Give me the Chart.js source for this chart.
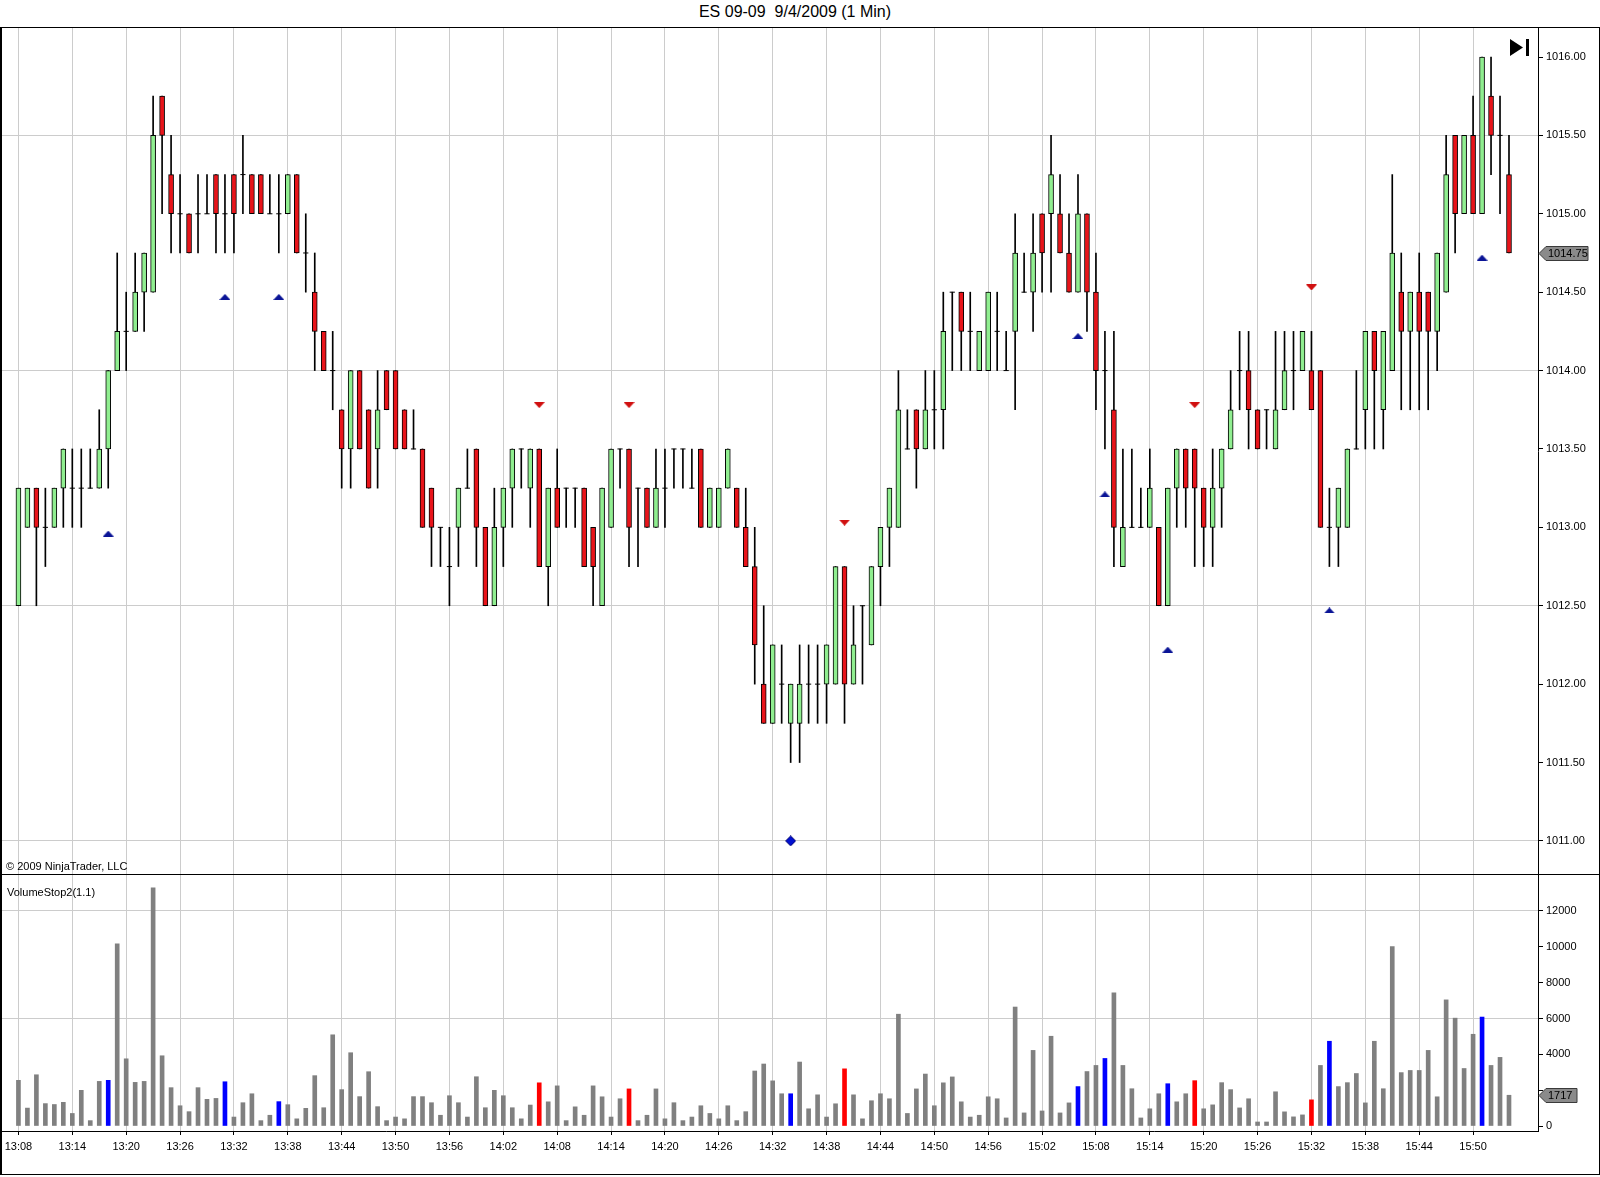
<!DOCTYPE html>
<html>
<head>
<meta charset="utf-8">
<title>ES 09-09 9/4/2009 (1 Min)</title>
<script src="https://cdn.jsdelivr.net/npm/chart.js@4.4.0/dist/chart.umd.min.js"></script>
<style>
  html, body { margin: 0; padding: 0; background: #fff; }
  body { width: 1600px; height: 1177px; position: relative; overflow: hidden;
         font-family: "Liberation Sans", Arial, sans-serif; color: #000; }
  #title { position: absolute; left: 0; top: 3px; width: 1590px; text-align: center;
           font-size: 16px; white-space: pre; }
  #frame { position: absolute; left: 0; top: 27px; width: 1600px; height: 1148px;
           box-sizing: border-box; border: 1px solid #000; border-left-width: 2px; }
  #divider { position: absolute; left: 0; top: 874px; width: 1600px; height: 1px; background: #000; }
  canvas { position: absolute; left: 0; }
  #priceCanvas { top: 28px; }
  #volumeCanvas { top: 875px; }
  .note { position: absolute; font-size: 11px; white-space: pre; }
</style>
</head>
<body>
<div id="title">ES 09-09  9/4/2009 (1 Min)</div>
<div id="frame"></div>
<canvas id="priceCanvas" width="1600" height="846"></canvas>
<div id="divider"></div>
<canvas id="volumeCanvas" width="1600" height="300"></canvas>
<div class="note" style="left:6px; top:860px;">© 2009 NinjaTrader, LLC</div>
<div class="note" style="left:7px; top:886px;">VolumeStop2(1.1)</div>
<script>
// ---- data (one bar per minute, 13:08 .. 15:54) ----
const tickLabels = ['13:08', '13:14', '13:20', '13:26', '13:32', '13:38', '13:44', '13:50', '13:56', '14:02',
  '14:08', '14:14', '14:20', '14:26', '14:32', '14:38', '14:44', '14:50', '14:56', '15:02',
  '15:08', '15:14', '15:20', '15:26', '15:32', '15:38', '15:44', '15:50'];

const opens = [
  1012.5, 1013.0, 1013.25, 1013.0, 1013.0, 1013.25, 1013.25, 1013.25, 1013.25, 1013.25,
  1013.5, 1014.0, 1014.25, 1014.25, 1014.5, 1014.5, 1015.75, 1015.25, 1015.0, 1015.0,
  1015.0, 1015.0, 1015.25, 1015.0, 1015.25, 1015.25, 1015.25, 1015.25, 1015.0, 1015.0,
  1015.0, 1015.25, 1014.75, 1014.5, 1014.25, 1014.0, 1013.75, 1013.5, 1014.0, 1013.75,
  1013.5, 1014.0, 1014.0, 1013.75, 1013.5, 1013.5, 1013.25, 1013.0, 1012.75, 1013.0,
  1013.25, 1013.5, 1013.0, 1012.5, 1013.0, 1013.25, 1013.5, 1013.25, 1013.5, 1012.75,
  1013.25, 1013.25, 1013.25, 1013.25, 1013.0, 1012.5, 1013.0, 1013.5, 1013.5, 1013.25,
  1013.25, 1013.0, 1013.25, 1013.5, 1013.5, 1013.25, 1013.5, 1013.0, 1013.0, 1013.25,
  1013.25, 1013.0, 1012.75, 1012.0, 1011.75, 1012.0, 1011.75, 1011.75, 1012.0, 1012.0,
  1012.0, 1012.0, 1012.75, 1012.0, 1012.5, 1012.25, 1012.75, 1013.0, 1013.0, 1013.5,
  1013.75, 1013.5, 1013.75, 1013.75, 1014.5, 1014.5, 1014.25, 1014.0, 1014.0, 1014.25,
  1014.0, 1014.25, 1014.5, 1014.5, 1015.0, 1015.0, 1015.0, 1014.75, 1014.5, 1015.0,
  1014.5, 1014.0, 1013.75, 1012.75, 1013.0, 1013.0, 1013.0, 1013.0, 1012.5, 1013.25,
  1013.5, 1013.5, 1013.25, 1013.0, 1013.25, 1013.5, 1014.0, 1014.0, 1013.75, 1013.75,
  1013.5, 1013.75, 1014.0, 1014.0, 1014.0, 1014.0, 1013.0, 1013.0, 1013.0, 1013.5,
  1013.75, 1014.25, 1013.75, 1014.0, 1014.5, 1014.25, 1014.5, 1014.5, 1014.25, 1014.5,
  1015.5, 1015.0, 1015.5, 1015.0, 1015.75, 1015.5, 1015.25];

const highs = [
  1013.25, 1013.25, 1013.25, 1013.25, 1013.25, 1013.5, 1013.5, 1013.5, 1013.5, 1013.75,
  1014.0, 1014.75, 1014.5, 1014.75, 1014.75, 1015.75, 1015.75, 1015.5, 1015.25, 1015.0,
  1015.25, 1015.25, 1015.25, 1015.25, 1015.25, 1015.5, 1015.25, 1015.25, 1015.25, 1015.25,
  1015.25, 1015.25, 1015.0, 1014.75, 1014.25, 1014.25, 1013.75, 1014.0, 1014.0, 1013.75,
  1014.0, 1014.0, 1014.0, 1013.75, 1013.75, 1013.5, 1013.25, 1013.0, 1013.0, 1013.25,
  1013.5, 1013.5, 1013.0, 1013.25, 1013.25, 1013.5, 1013.5, 1013.5, 1013.5, 1013.25,
  1013.5, 1013.25, 1013.25, 1013.25, 1013.0, 1013.25, 1013.5, 1013.5, 1013.5, 1013.25,
  1013.25, 1013.5, 1013.5, 1013.5, 1013.5, 1013.5, 1013.5, 1013.25, 1013.25, 1013.5,
  1013.25, 1013.25, 1013.0, 1012.5, 1012.25, 1012.25, 1012.0, 1012.25, 1012.25, 1012.25,
  1012.25, 1012.75, 1012.75, 1012.5, 1012.5, 1012.75, 1013.0, 1013.25, 1014.0, 1013.75,
  1013.75, 1014.0, 1014.0, 1014.5, 1014.5, 1014.5, 1014.5, 1014.25, 1014.5, 1014.5,
  1014.25, 1015.0, 1014.75, 1015.0, 1015.0, 1015.5, 1015.25, 1015.0, 1015.25, 1015.0,
  1014.75, 1014.25, 1014.25, 1013.5, 1013.5, 1013.25, 1013.5, 1013.0, 1013.25, 1013.5,
  1013.5, 1013.5, 1013.25, 1013.5, 1013.5, 1014.0, 1014.25, 1014.25, 1013.75, 1013.75,
  1014.25, 1014.25, 1014.25, 1014.25, 1014.25, 1014.0, 1013.25, 1013.25, 1013.5, 1014.0,
  1014.25, 1014.25, 1014.25, 1015.25, 1014.75, 1014.5, 1014.75, 1014.5, 1014.75, 1015.5,
  1015.5, 1015.5, 1015.75, 1016.0, 1016.0, 1015.75, 1015.5];

const lows = [
  1012.5, 1013.0, 1012.5, 1012.75, 1013.0, 1013.0, 1013.0, 1013.0, 1013.25, 1013.25,
  1013.25, 1014.0, 1014.0, 1014.25, 1014.25, 1014.5, 1015.0, 1014.75, 1014.75, 1014.75,
  1014.75, 1015.0, 1014.75, 1014.75, 1014.75, 1015.0, 1015.0, 1015.0, 1015.0, 1014.75,
  1015.0, 1014.75, 1014.5, 1014.0, 1014.0, 1013.75, 1013.25, 1013.25, 1013.5, 1013.25,
  1013.25, 1013.75, 1013.5, 1013.5, 1013.5, 1013.0, 1012.75, 1012.75, 1012.5, 1012.75,
  1013.25, 1012.75, 1012.5, 1012.5, 1012.75, 1013.0, 1013.25, 1013.0, 1012.75, 1012.5,
  1013.0, 1013.0, 1013.0, 1012.75, 1012.5, 1012.5, 1013.0, 1013.25, 1012.75, 1012.75,
  1013.0, 1013.0, 1013.0, 1013.25, 1013.25, 1013.25, 1013.0, 1013.0, 1013.0, 1013.25,
  1013.0, 1012.75, 1012.0, 1011.75, 1011.75, 1011.75, 1011.5, 1011.5, 1011.75, 1011.75,
  1011.75, 1012.0, 1011.75, 1012.0, 1012.0, 1012.25, 1012.5, 1012.75, 1013.0, 1013.5,
  1013.25, 1013.5, 1013.5, 1013.5, 1014.0, 1014.0, 1014.0, 1014.0, 1014.0, 1014.0,
  1014.0, 1013.75, 1014.5, 1014.25, 1014.5, 1014.5, 1014.75, 1014.5, 1014.5, 1014.25,
  1013.75, 1013.5, 1012.75, 1012.75, 1013.0, 1013.0, 1013.0, 1012.5, 1012.5, 1013.0,
  1013.0, 1012.75, 1012.75, 1012.75, 1013.0, 1013.5, 1013.75, 1013.5, 1013.5, 1013.5,
  1013.5, 1013.75, 1013.75, 1014.0, 1013.75, 1013.0, 1012.75, 1012.75, 1013.0, 1013.5,
  1013.5, 1013.5, 1013.5, 1014.0, 1013.75, 1013.75, 1013.75, 1013.75, 1014.0, 1014.5,
  1014.75, 1015.0, 1015.0, 1015.0, 1015.25, 1015.0, 1014.75];

const closes = [
  1013.25, 1013.25, 1013.0, 1013.0, 1013.25, 1013.5, 1013.25, 1013.25, 1013.25, 1013.5,
  1014.0, 1014.25, 1014.25, 1014.5, 1014.75, 1015.5, 1015.5, 1015.0, 1015.0, 1014.75,
  1015.0, 1015.0, 1015.0, 1015.0, 1015.0, 1015.25, 1015.0, 1015.0, 1015.0, 1015.0,
  1015.25, 1014.75, 1014.75, 1014.25, 1014.0, 1014.0, 1013.5, 1014.0, 1013.5, 1013.25,
  1013.75, 1013.75, 1013.5, 1013.5, 1013.5, 1013.0, 1013.0, 1013.0, 1012.75, 1013.25,
  1013.25, 1013.0, 1012.5, 1013.0, 1013.25, 1013.5, 1013.5, 1013.5, 1012.75, 1013.25,
  1013.0, 1013.25, 1013.25, 1012.75, 1012.75, 1013.25, 1013.5, 1013.5, 1013.0, 1013.25,
  1013.0, 1013.25, 1013.25, 1013.5, 1013.5, 1013.25, 1013.0, 1013.25, 1013.25, 1013.5,
  1013.0, 1012.75, 1012.25, 1011.75, 1012.25, 1012.0, 1012.0, 1012.0, 1012.0, 1012.0,
  1012.25, 1012.75, 1012.0, 1012.25, 1012.5, 1012.75, 1013.0, 1013.25, 1013.75, 1013.5,
  1013.5, 1013.75, 1013.75, 1014.25, 1014.5, 1014.25, 1014.25, 1014.25, 1014.5, 1014.25,
  1014.0, 1014.75, 1014.5, 1014.75, 1014.75, 1015.25, 1014.75, 1014.5, 1015.0, 1014.5,
  1014.0, 1014.0, 1013.0, 1013.0, 1013.0, 1013.0, 1013.25, 1012.5, 1013.25, 1013.5,
  1013.25, 1013.25, 1013.0, 1013.25, 1013.5, 1013.75, 1014.0, 1013.75, 1013.5, 1013.75,
  1013.75, 1014.0, 1014.0, 1014.25, 1013.75, 1013.0, 1013.0, 1013.25, 1013.5, 1013.5,
  1014.25, 1014.0, 1014.25, 1014.75, 1014.25, 1014.5, 1014.25, 1014.25, 1014.75, 1015.25,
  1015.0, 1015.5, 1015.0, 1016.0, 1015.5, 1015.5, 1014.75];

const volumes = [
  2550, 1000, 2860, 1250, 1200, 1320, 700, 1990, 300, 2490,
  2550, 10170, 3750, 2435, 2490, 13290, 3920, 2140, 1130, 800,
  2140, 1490, 1540, 2470, 500, 1300, 1800, 300, 600, 1360,
  1190, 400, 985, 2810, 1020, 5090, 2030, 4090, 1640, 3030,
  1080, 300, 500, 400, 1640, 1640, 1300, 600, 1690, 1300,
  500, 2750, 1020, 1990, 1690, 1020, 400, 1170, 2410, 1350,
  2240, 300, 1070, 600, 2240, 1630, 500, 1520, 2070, 300,
  600, 2070, 400, 1300, 300, 500, 1130, 700, 400, 1130,
  300, 800, 3070, 3460, 2520, 1800, 1800, 3570, 960, 1740,
  500, 1240, 3190, 1740, 400, 1410, 1800, 1520, 6240, 700,
  2070, 2900, 1130, 2410, 2740, 1350, 500, 600, 1630, 1520,
  450, 6640, 730, 4220, 840, 5010, 730, 1290, 2200, 3040,
  3380, 3770, 7430, 3380, 2080, 450, 960, 1800, 2360, 1350,
  1800, 2530, 960, 1180, 2420, 2030, 1010, 1520, 225, 225,
  1910, 790, 510, 620, 1460, 3380, 4730, 2200, 2420, 2930,
  1290, 4730, 2080, 10020, 2980, 3100, 3100, 4220, 1630, 7040,
  6020, 3210, 5120, 6080, 3380, 3830, 1717];

// indicator signals: bar index (0 = 13:08) and price level of the marker
const buySignals = [
  { bar: 10, price: 1012.96 }, { bar: 23, price: 1014.47 }, { bar: 29, price: 1014.47 },
  { bar: 118, price: 1014.22 }, { bar: 121, price: 1013.21 }, { bar: 128, price: 1012.22 },
  { bar: 146, price: 1012.47 }, { bar: 163, price: 1014.72 }];
const sellSignals = [
  { bar: 58, price: 1013.78 }, { bar: 68, price: 1013.78 }, { bar: 92, price: 1013.03 },
  { bar: 131, price: 1013.78 }, { bar: 144, price: 1014.53 }];
const stopSignals = [{ bar: 86, price: 1011.0 }];

const priceTicks = [1011.0, 1011.5, 1012.0, 1012.5, 1013.0, 1013.5, 1014.0, 1014.5, 1015.0, 1015.5, 1016.0];
const priceGridLines = [1011.0, 1012.5, 1014.0, 1015.5];
const volumeTicks = [0, 2000, 4000, 6000, 8000, 10000, 12000];
const volumeGridLines = [6000, 12000];

// ---- layout of the panels ----
const X_MIN = -1.83;
const X_MAX = 169.23;
const PRICE_MIN = 1010.789;
const PRICE_MAX = 1016.185;
const VOL_MIN = -279;
const VOL_MAX = 14009;
const AXIS_WIDTH = 62;

const FONT = { family: '"Liberation Sans", Arial, sans-serif', size: 11 };
const GRID = '#cccccc';
const UP = '#90ee90';
const DOWN = '#e8141a';

const tickBars = tickLabels.map((_, i) => i * 6);

function markerImage(kind) {
  const c = document.createElement('canvas');
  const g = c.getContext('2d');
  if (kind === 'diamond') {
    c.width = 11; c.height = 11;
    g.beginPath();
    g.moveTo(5.5, 0.5); g.lineTo(10.5, 5.5); g.lineTo(5.5, 10.5); g.lineTo(0.5, 5.5);
    g.closePath();
    g.fillStyle = '#0010d0';
    g.fill();
    g.strokeStyle = '#000070';
    g.stroke();
    return c;
  }
  c.width = 11; c.height = 6;
  g.beginPath();
  if (kind === 'up') {
    g.moveTo(0, 6); g.lineTo(5.5, 0); g.lineTo(11, 6);
  } else {
    g.moveTo(0, 0); g.lineTo(11, 0); g.lineTo(5.5, 6);
  }
  g.closePath();
  g.fillStyle = kind === 'up' ? '#0a1496' : '#d01010';
  g.fill();
  return c;
}

// gray tag showing the last value on the right axis
const lastValueTag = {
  id: 'lastValueTag',
  afterDraw(chart, args, opts) {
    if (opts.value === undefined) return;
    const { ctx } = chart;
    const y = Math.round(chart.scales.y.getPixelForValue(opts.value)) + 0.5;
    const x = chart.chartArea.right + 1;
    const w = opts.width || 49;
    ctx.save();
    ctx.beginPath();
    ctx.moveTo(x, y);
    ctx.lineTo(x + 7, y - 7);
    ctx.lineTo(x + w, y - 7);
    ctx.lineTo(x + w, y + 7);
    ctx.lineTo(x + 7, y + 7);
    ctx.closePath();
    ctx.fillStyle = '#8a8a8a';
    ctx.fill();
    ctx.strokeStyle = '#3a3a3a';
    ctx.lineWidth = 1;
    ctx.stroke();
    ctx.fillStyle = '#000';
    ctx.font = `${FONT.size}px ${FONT.family}`;
    ctx.textBaseline = 'middle';
    ctx.fillText(opts.text, x + 9, y + 0.5);
    ctx.restore();
  },
};

// "go to end" glyph in the top right corner of the price panel
const scrollIcon = {
  id: 'scrollIcon',
  afterDraw(chart, args, opts) {
    if (!opts.show) return;
    const { ctx, chartArea } = chart;
    const r = chartArea.right;
    ctx.save();
    ctx.fillStyle = '#000';
    ctx.beginPath();
    ctx.moveTo(r - 28, chartArea.top + 11);
    ctx.lineTo(r - 15, chartArea.top + 19.5);
    ctx.lineTo(r - 28, chartArea.top + 28);
    ctx.closePath();
    ctx.fill();
    ctx.fillRect(r - 12, chartArea.top + 11, 3, 17);
    ctx.restore();
  },
};

function xScale(showLabels) {
  return {
    type: 'linear',
    min: X_MIN,
    max: X_MAX,
    offset: false,
    afterBuildTicks: (s) => { s.ticks = tickBars.map((v) => ({ value: v })); },
    afterFit: (s) => {
      s.height = showLabels ? 44 : 0;
      s.paddingLeft = 0;
      s.paddingRight = 0;
    },
    ticks: {
      display: showLabels,
      autoSkip: false,
      maxRotation: 0,
      padding: 5,
      color: '#000',
      font: FONT,
      callback: (v, i) => tickLabels[i],
    },
    grid: {
      offset: false,
      color: GRID,
      drawTicks: showLabels,
      tickLength: 4,
      tickColor: '#000',
    },
    border: { display: showLabels, color: '#000' },
  };
}

function yScale(min, max, ticks, gridLines, fmt) {
  return {
    position: 'right',
    min,
    max,
    beginAtZero: false,
    afterBuildTicks: (s) => { s.ticks = ticks.map((v) => ({ value: v })); },
    afterFit: (s) => {
      s.width = AXIS_WIDTH;
      s.paddingTop = 0;
      s.paddingBottom = 0;
    },
    ticks: { autoSkip: false, padding: 3, color: '#000', font: FONT, callback: fmt },
    grid: {
      color: (ctx) => (ctx.tick && gridLines.includes(ctx.tick.value) ? GRID : 'rgba(0,0,0,0)'),
      tickColor: '#000',
      tickLength: 5,
    },
    border: { color: '#000' },
  };
}

// ---- price panel ----
const wicks = [];
const bodies = [];
const bodyColors = [];
const dojis = [];
opens.forEach((o, i) => {
  wicks.push({ x: i, y: [lows[i], highs[i]] });
  if (o === closes[i]) {
    dojis.push({ x: i, y: o });
  } else {
    bodies.push({ x: i, y: [o, closes[i]] });
    bodyColors.push(closes[i] > o ? UP : DOWN);
  }
});

const toPoints = (list) => list.map((s) => ({ x: s.bar, y: s.price }));
const lastClose = closes[closes.length - 1];
const lastVolume = volumes[volumes.length - 1];

Chart.defaults.font.family = FONT.family;

new Chart(document.getElementById('priceCanvas'), {
  type: 'bar',
  data: {
    datasets: [
      {
        type: 'scatter', label: 'buy', data: toPoints(buySignals), order: 0,
        pointStyle: markerImage('up'), pointRadius: 5,
      },
      {
        type: 'scatter', label: 'sell', data: toPoints(sellSignals), order: 0,
        pointStyle: markerImage('down'), pointRadius: 5,
      },
      {
        type: 'scatter', label: 'stop', data: toPoints(stopSignals), order: 0,
        pointStyle: markerImage('diamond'), pointRadius: 5,
      },
      {
        type: 'scatter', label: 'doji', data: dojis, order: 1,
        pointStyle: 'line', pointRadius: 2.6, borderColor: '#000', borderWidth: 1,
      },
      {
        label: 'body', data: bodies, order: 2, grouped: false,
        barThickness: 5, backgroundColor: bodyColors,
        borderColor: '#000', borderWidth: 1, borderSkipped: false,
      },
      {
        label: 'wick', data: wicks, order: 3, grouped: false,
        barThickness: 1, backgroundColor: '#000', borderWidth: 0,
      },
    ],
  },
  options: {
    responsive: false,
    animation: false,
    events: [],
    layout: { autoPadding: false, padding: { left: 2, right: 0, top: 0, bottom: 0 } },
    plugins: {
      legend: { display: false },
      tooltip: { enabled: false },
      lastValueTag: { value: lastClose, text: lastClose.toFixed(2), width: 49 },
      scrollIcon: { show: true },
    },
    scales: {
      x: xScale(false),
      y: yScale(PRICE_MIN, PRICE_MAX, priceTicks, priceGridLines, (v) => Number(v).toFixed(2)),
    },
  },
  plugins: [lastValueTag, scrollIcon],
});

// ---- volume panel ----
const volumeColors = volumes.map((v, i) => {
  if (buySignals.some((s) => s.bar === i) || stopSignals.some((s) => s.bar === i)) return '#0000ff';
  if (sellSignals.some((s) => s.bar === i)) return '#ff0000';
  return '#808080';
});

new Chart(document.getElementById('volumeCanvas'), {
  type: 'bar',
  data: {
    datasets: [{
      label: 'VolumeStop2(1.1)',
      data: volumes.map((v, i) => ({ x: i, y: v })),
      backgroundColor: volumeColors,
      barThickness: 4,
      borderWidth: 0,
      grouped: false,
    }],
  },
  options: {
    responsive: false,
    animation: false,
    events: [],
    layout: { autoPadding: false, padding: { left: 2, right: 0, top: 0, bottom: 0 } },
    plugins: {
      legend: { display: false },
      tooltip: { enabled: false },
      lastValueTag: { value: lastVolume, text: String(lastVolume), width: 38 },
      scrollIcon: { show: false },
    },
    scales: {
      x: xScale(true),
      // the label hidden under the last-value tag is left out, as in the original
      y: yScale(VOL_MIN, VOL_MAX, volumeTicks, volumeGridLines,
        (v) => (Math.abs(v - lastVolume) < 600 ? '' : String(v))),
    },
  },
  plugins: [lastValueTag, scrollIcon],
});
</script>
</body>
</html>
